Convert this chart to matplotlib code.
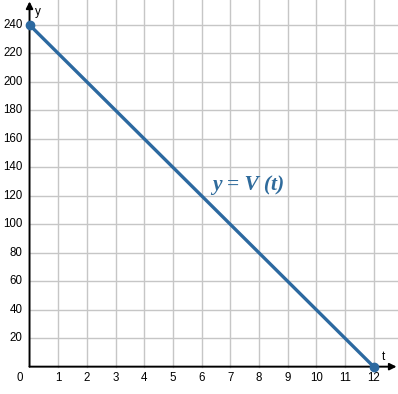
import matplotlib.pyplot as plt

# data
t_vals = [0, 12]
v_vals = [240, 0]
x_ticks = list(range(0, 13))
y_ticks = list(range(20, 241, 20))

xmin, xmax = -1.03, 12.85
ymin, ymax = -19.2, 257.5

fig = plt.figure(figsize=(3.98, 3.94), dpi=100)
ax = fig.add_axes([0, 0, 1, 1])
ax.set_xlim(xmin, xmax)
ax.set_ylim(ymin, ymax)
ax.axis('off')

grid_c = '#c6c6c6'
for x in x_ticks[1:]:
    ax.plot([x, x], [0, ymax], color=grid_c, lw=1, zorder=1)
for y in y_ticks:
    ax.plot([0, xmax], [y, y], color=grid_c, lw=1, zorder=1)

# axes with arrows
ax.annotate('', xy=(xmax - 0.05, 0), xytext=(0, 0),
            arrowprops=dict(arrowstyle='-|>', color='black', lw=1.4,
                            mutation_scale=10, shrinkA=0, shrinkB=0), zorder=3)
ax.annotate('', xy=(0, ymax - 1), xytext=(0, 0),
            arrowprops=dict(arrowstyle='-|>', color='black', lw=1.4,
                            mutation_scale=10, shrinkA=0, shrinkB=0), zorder=3)

font = 'Liberation Sans'
for x in x_ticks:
    xx = -0.35 if x == 0 else x
    ax.text(xx, -8, str(x), ha='center', va='center', fontsize=8.3, family=font)
for y in y_ticks:
    ax.text(-0.25, y, str(y), ha='right', va='center', fontsize=8.3, family=font)

ax.text(0.18, 249, 'y', ha='left', va='center', fontsize=8.5, family=font)
ax.text(12.35, 7, 't', ha='center', va='center', fontsize=8.5, family=font)

blue = '#2c69a0'
ax.plot(t_vals, v_vals, color=blue, lw=2.4, zorder=4, solid_capstyle='round')
ax.plot(t_vals, v_vals, 'o', color=blue, ms=6, zorder=5, clip_on=False)

ax.text(7.63, 127.5, 'y = V (t)', ha='center', va='center', fontsize=15.5,
        family='Liberation Serif', style='italic', weight='bold',
        color='#2f6b9c', zorder=6)

fig.savefig('out.png', dpi=100)
